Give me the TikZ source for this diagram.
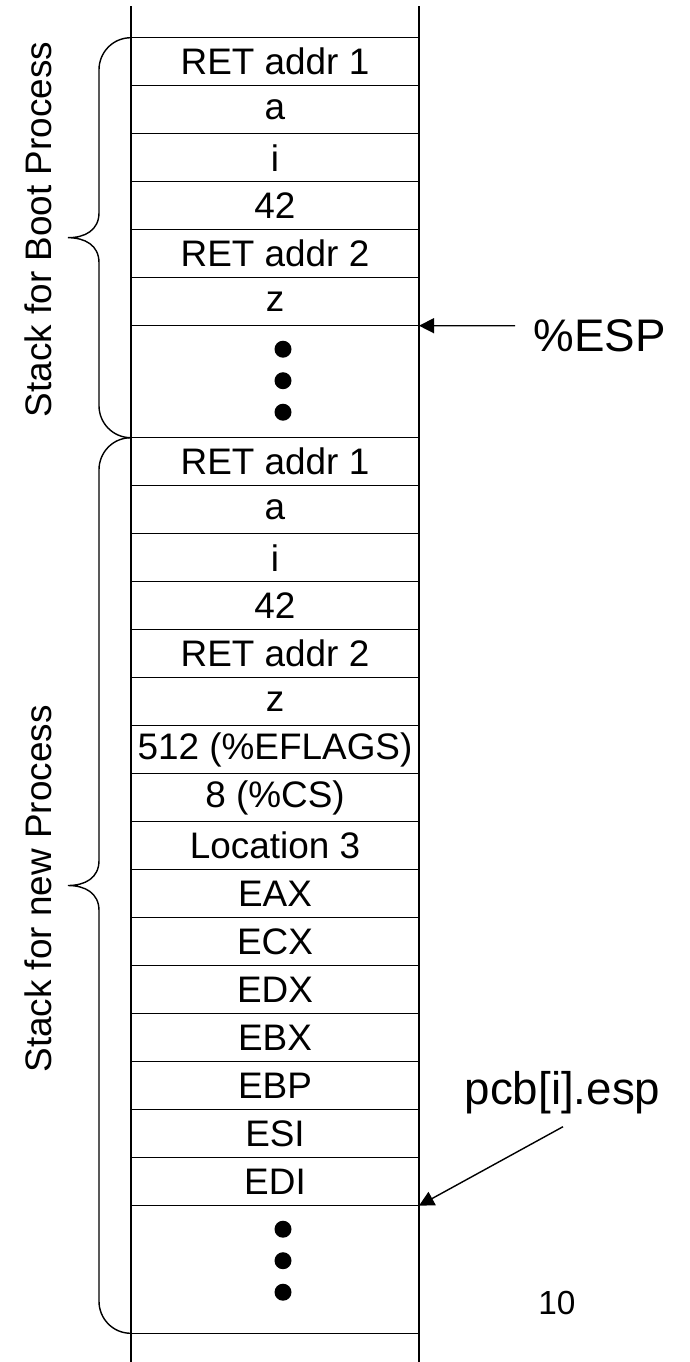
\documentclass[tikz,border=0pt]{standalone}
\usepackage{fontspec}
\setmainfont{Liberation Sans}
\usetikzlibrary{arrows.meta,calc,positioning}
\newcommand{\stackbrace}[2]{\pgfmathsetmacro\bmid{(#1+#2)/2}
  \draw (2.62,#1) .. controls (2.25,#1) and (1.98,{#1-0.3}) .. (1.98,{#1-0.64})
    -- (1.98,{\bmid+0.5}) .. controls (1.98,{\bmid+0.15}) and (1.7,\bmid) .. (1.36,\bmid)
    .. controls (1.7,\bmid) and (1.98,{\bmid-0.15}) .. (1.98,{\bmid-0.5})
    -- (1.98,{#2+0.64}) .. controls (1.98,{#2+0.3}) and (2.25,#2) .. (2.62,#2);}
\newcommand{\stackdots}[1]{\begin{scope}[shift={(#1)}]
  \fill (0,0.63) circle (0.17); \fill (0,0) circle (0.17); \fill (0,-0.63) circle (0.17);\end{scope}}

\begin{document}
\begin{tikzpicture}[font=\fontsize{21}{25}\selectfont,line width=0.8pt,
  cell/.style={draw,minimum width=5.76cm,minimum height=0.96cm,inner xsep=0pt,inner ysep=0pt,outer sep=0pt},
  side/.style={font=\fontsize{26}{30}\selectfont,inner sep=0pt,anchor=base west},
  ptr/.style={-{Triangle[length=0.3cm,width=0.3cm]}}]
\useasboundingbox (0,0) rectangle (13.8,-27.24);
% stack for the boot process
\coordinate (b0) at (5.5,-0.754);
\foreach \txt [count=\i, remember=\i as \j (initially 0)] in {RET addr 1,a,i,42,RET addr 2,z}
  \node[cell,below=0pt of b\j] (b\i) {\txt};
\node[cell,below=0pt of b6,minimum height=2.24cm] (bdots) {};
% stack for the new process
\coordinate (n0) at (bdots.south);
\foreach \txt [count=\i, remember=\i as \j (initially 0)] in {RET addr 1,a,i,42,RET addr 2,z,
    {512 (\%EFLAGS)},{8 (\%CS)},Location 3,EAX,ECX,EDX,EBX,EBP,ESI,EDI}
  \node[cell,below=0pt of n\j] (n\i) {\txt};
\node[cell,below=0pt of n16,minimum height=2.552cm] (ndots) {};
\stackdots{$(bdots.center)+(0.16,0.02)$}
\stackdots{$(ndots.center)+(0.16,0.176)$}
% column sides
\coordinate (coltop) at (0,-0.12);
\coordinate (colbot) at (0,-27.24);
\draw (b1.west |- coltop) -- (b1.west |- colbot);
\draw (b1.east |- coltop) -- (b1.east |- colbot);
% braces and labels
\stackbrace{-0.754}{-8.754}
\stackbrace{-8.754}{-26.666}
\node[rotate=90] (bootlbl) at (0.76,-4.59) {Stack for Boot Process};
\node[rotate=90] (newlbl) at (0.76,-17.78) {Stack for new Process};
% pointers
\node[side] (esp) at (10.66,-7.03) {\%ESP};
\coordinate (esptail) at (10.3,-6.514);
\draw[ptr] (esptail) -- (b6.south east);
\node[side] (pcb) at (9.28,-22.08) {pcb[i].esp};
\coordinate (pcbtail) at (11.26,-22.534);
\draw[ptr] (pcbtail) -- (n16.south east);
\node[font=\fontsize{19}{23}\selectfont] (pgno) at (11.14,-26.06) {10};
\end{tikzpicture}
\end{document}
